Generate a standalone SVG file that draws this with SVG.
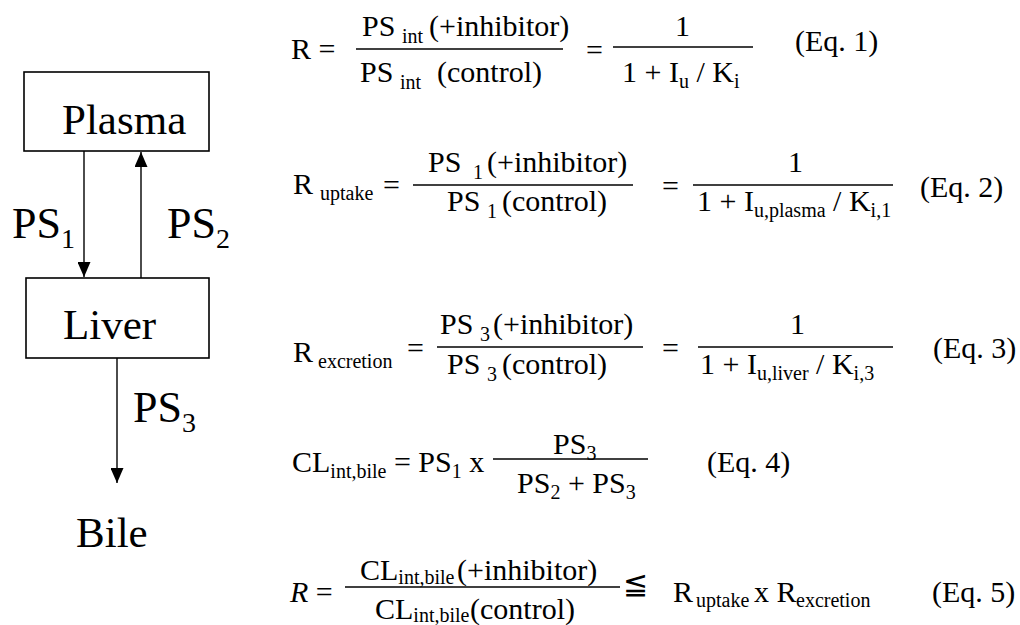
<svg xmlns="http://www.w3.org/2000/svg" width="1020" height="625" viewBox="0 0 1020 625">
<style>
text { font-family: "Liberation Serif", "Times New Roman", serif; fill: #000; }
.big { font-size: 43px; }
.lbl { font-size: 44px; }
.lsub { font-size: 28px; }
.m { font-size: 30px; }
.s { font-size: 20px; }
.box { fill: #fff; stroke: #000; stroke-width: 1.6; }
.conn { stroke: #000; stroke-width: 1.4; fill: none; }
.bar { stroke: #000; stroke-width: 1.5; }
</style>
<defs>
<marker id="ah" markerUnits="userSpaceOnUse" markerWidth="15" markerHeight="13" refX="15" refY="6.5" orient="auto">
<path d="M0,0 L15,6.5 L0,13 z" fill="#000"/>
</marker>
</defs>
<rect width="1020" height="625" fill="#fff"/>

<g id="plasma">
<rect class="box" x="24" y="72" width="185" height="79"/>
<text class="big" x="62" y="134">Plasma</text>
</g>
<g id="liver">
<rect class="box" x="26" y="278" width="183" height="80"/>
<text class="big" x="63" y="339">Liver</text>
</g>
<g id="bile">
<text class="big" x="76" y="547">Bile</text>
</g>

<g id="connectors">
<line class="conn" x1="84" y1="151" x2="84" y2="277" marker-end="url(#ah)"/>
<line class="conn" x1="141" y1="278" x2="141" y2="152" marker-end="url(#ah)"/>
<line class="conn" x1="117" y1="358" x2="117" y2="483" marker-end="url(#ah)"/>
<text class="lbl" x="12" y="238">PS<tspan class="lsub" dy="10">1</tspan></text>
<text class="lbl" x="167" y="238">PS<tspan class="lsub" dy="10">2</tspan></text>
<text class="lbl" x="133" y="422">PS<tspan class="lsub" dy="10">3</tspan></text>
</g>

<g id="eq1">
<text class="m" x="291" y="59">R =</text>
<text class="m" x="362" y="36">PS</text><text class="s" x="402" y="43">int</text><text class="m" x="429" y="36">(+inhibitor)</text>
<line class="bar" x1="356" y1="49" x2="563" y2="49"/>
<text class="m" x="360" y="82">PS</text><text class="s" x="400" y="89">int</text><text class="m" x="437" y="82">(control)</text>
<text class="m" x="586" y="60">=</text>
<text class="m" x="675" y="36">1</text>
<line class="bar" x1="613" y1="47" x2="753" y2="47"/>
<text class="m" x="622" y="82">1 + I<tspan class="s" dy="6">u</tspan><tspan dy="-6"> / K</tspan><tspan class="s" dy="6">i</tspan></text>
<text class="m" x="795" y="51">(Eq. 1)</text>
</g>

<g id="eq2">
<text class="m" x="293" y="194">R</text><text class="s" x="320" y="200">uptake</text>
<text class="m" x="383" y="195">=</text>
<text class="m" x="428" y="172">PS</text><text class="s" x="473" y="179">1</text><text class="m" x="487" y="172">(+inhibitor)</text>
<line class="bar" x1="413" y1="185" x2="633" y2="185"/>
<text class="m" x="447" y="211">PS</text><text class="s" x="487" y="218">1</text><text class="m" x="502" y="211">(control)</text>
<text class="m" x="662" y="196">=</text>
<text class="m" x="788" y="172">1</text>
<line class="bar" x1="693" y1="185" x2="893" y2="185"/>
<text class="m" x="697" y="211">1 + I<tspan class="s" dy="6">u,plasma</tspan><tspan dy="-6"> / K</tspan><tspan class="s" dy="6">i,1</tspan></text>
<text class="m" x="920" y="197">(Eq. 2)</text>
</g>

<g id="eq3">
<text class="m" x="293" y="362">R</text><text class="s" x="318" y="368">excretion</text>
<text class="m" x="407" y="358">=</text>
<text class="m" x="440" y="334">PS</text><text class="s" x="480" y="341">3</text><text class="m" x="493" y="334">(+inhibitor)</text>
<line class="bar" x1="437" y1="347" x2="643" y2="347"/>
<text class="m" x="447" y="374">PS</text><text class="s" x="487" y="381">3</text><text class="m" x="502" y="374">(control)</text>
<text class="m" x="662" y="358">=</text>
<text class="m" x="790" y="334">1</text>
<line class="bar" x1="698" y1="347" x2="893" y2="347"/>
<text class="m" x="700" y="374">1 + I<tspan class="s" dy="6">u,liver</tspan><tspan dy="-6"> / K</tspan><tspan class="s" dy="6">i,3</tspan></text>
<text class="m" x="933" y="358">(Eq. 3)</text>
</g>

<g id="eq4">
<text class="m" x="292" y="472">CL<tspan class="s" dy="6">int,bile</tspan><tspan dy="-6"> = PS</tspan><tspan class="s" dy="6">1</tspan><tspan dy="-6"> x</tspan></text>
<text class="m" x="553" y="454">PS<tspan class="s" dy="6">3</tspan></text>
<line class="bar" x1="493" y1="459" x2="648" y2="459"/>
<text class="m" x="517" y="493">PS<tspan class="s" dy="6">2</tspan><tspan dy="-6"> + PS</tspan><tspan class="s" dy="6">3</tspan></text>
<text class="m" x="707" y="472">(Eq. 4)</text>
</g>

<g id="eq5">
<text class="m" x="290" y="602"><tspan font-style="italic">R</tspan> =</text>
<text class="m" x="360" y="580">CL<tspan class="s" dy="4">int,bile</tspan><tspan dy="-4" x="457">(+inhibitor)</tspan></text>
<line class="bar" x1="345" y1="587" x2="620" y2="587"/>
<text class="m" x="375" y="619">CL<tspan class="s" dy="3">int,bile</tspan><tspan dy="-3" x="470">(control)</tspan></text>
<text class="m" x="623" y="594">≦</text>
<text class="m" x="673" y="602">R</text><text class="s" x="696" y="607">uptake</text>
<text class="m" x="754" y="602">x R</text><text class="s" x="796" y="607">excretion</text>
<text class="m" x="932" y="602">(Eq. 5)</text>
</g>
</svg>
